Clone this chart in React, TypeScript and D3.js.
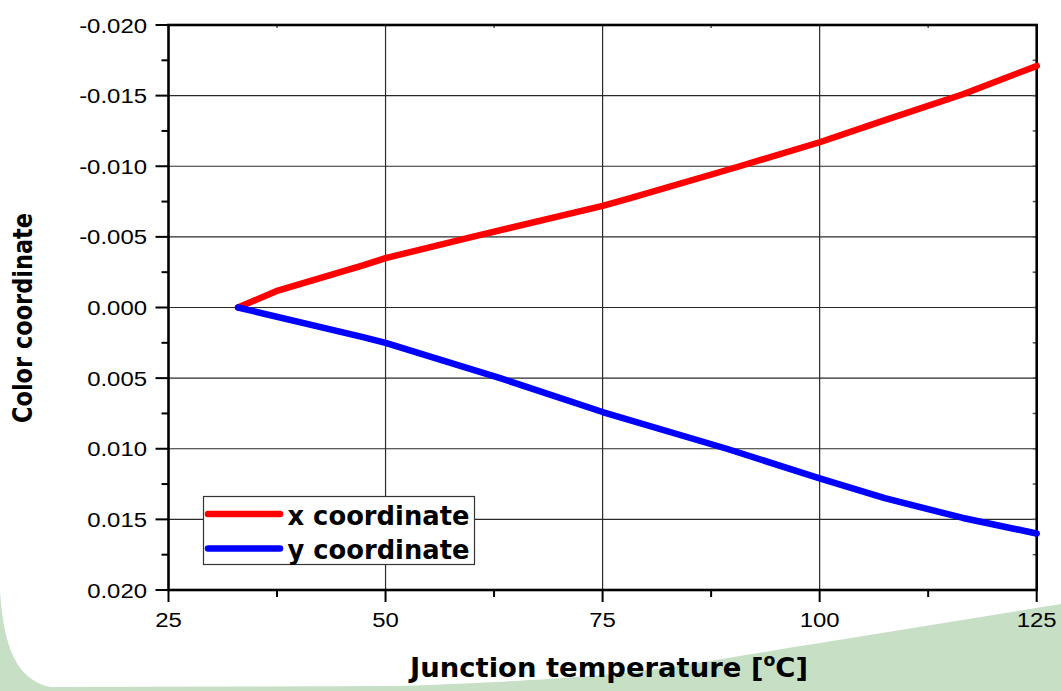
import React from "react";
import * as d3 from "d3";

// junction temperature (°C) and colour-coordinate shifts
const xTemps = [33, 37.6, 47.5, 50, 60, 75, 78, 90.8, 100, 107.7, 116.5, 125];
const xShift = [0, -0.0012, -0.003, -0.0035, -0.005, -0.0072, -0.0077, -0.01, -0.0117, -0.0133, -0.0151, -0.0171];

const yTemps = [33, 47.4, 50, 63.2, 75, 89.3, 100, 107.5, 116.5, 125];
const yShift = [0, 0.0021, 0.0025, 0.005, 0.0074, 0.01, 0.0121, 0.0135, 0.0149, 0.016];

const xTicks = [25, 50, 75, 100, 125];
const xMinor = [37.5, 62.5, 87.5, 112.5];
const yTicks = [-0.02, -0.015, -0.01, -0.005, 0, 0.005, 0.01, 0.015, 0.02];
const yMinor = [-0.0175, -0.0125, -0.0075, -0.0025, 0.0025, 0.0075, 0.0125, 0.0175];
const yTickLabels = ["-0.020", "-0.015", "-0.010", "-0.005", "0.000", "0.005", "0.010", "0.015", "0.020"];

const series = [
  { name: "x coordinate", color: "#ff0000", t: xTemps, v: xShift },
  { name: "y coordinate", color: "#0000ff", t: yTemps, v: yShift },
];

const W = 1061;
const H = 691;
const m = { left: 168.5, right: 1036.7, top: 25, bottom: 590 };

export default function App() {
  const x = d3.scaleLinear().domain([25, 125]).range([m.left, m.right]);
  const y = d3.scaleLinear().domain([-0.02, 0.02]).range([m.top, m.bottom]);

  const line = d3
    .line<[number, number]>()
    .x((d) => x(d[0]))
    .y((d) => y(d[1]));

  const tickFont = "'Liberation Sans', Arial, sans-serif";
  const boldFont = "'DejaVu Sans', Verdana, sans-serif";

  return (
    <svg
      width={W}
      height={H}
      style={{ position: "absolute", left: 0, top: 0, display: "block", background: "#fff" }}
    >
      {/* slide background swoosh */}
      <path
        d="M0,592 C4,650 18,680 50,687 L400,686 C520,682 600,676 650,670 C700,664 760,652 820,643 L1061,604 L1061,691 L0,691 Z"
        fill="#c6dfc5"
      />

      {/* grid */}
      <g stroke="#2a2a2a" strokeWidth={1.2}>
        {yTicks.slice(1, -1).map((t) => (
          <line key={"gy" + t} x1={m.left} x2={m.right} y1={y(t)} y2={y(t)} />
        ))}
        {xTicks.slice(1, -1).map((t) => (
          <line key={"gx" + t} x1={x(t)} x2={x(t)} y1={m.top} y2={m.bottom} />
        ))}
      </g>

      {/* ticks */}
      <g stroke="#000" strokeWidth={2}>
        {yTicks.map((t) => (
          <line key={"ly" + t} x1={m.left - 13} x2={m.left} y1={y(t)} y2={y(t)} />
        ))}
        {yMinor.map((t) => (
          <line key={"lm" + t} x1={m.left - 7} x2={m.left} y1={y(t)} y2={y(t)} />
        ))}
        {xTicks.map((t) => (
          <line key={"bx" + t} x1={x(t)} x2={x(t)} y1={m.bottom} y2={m.bottom + 12} />
        ))}
        {xMinor.map((t) => (
          <line key={"bm" + t} x1={x(t)} x2={x(t)} y1={m.bottom} y2={m.bottom + 7} />
        ))}
      </g>
      <g stroke="#555" strokeWidth={1.5}>
        {yTicks.concat(yMinor).map((t) => (
          <line key={"ry" + t} x1={m.right - 4} x2={m.right} y1={y(t)} y2={y(t)} />
        ))}
        {xMinor.map((t) => (
          <line key={"tm" + t} x1={x(t)} x2={x(t)} y1={m.top} y2={m.top + 3} />
        ))}
      </g>

      {/* frame */}
      <rect
        x={m.left}
        y={m.top}
        width={m.right - m.left}
        height={m.bottom - m.top}
        fill="none"
        stroke="#000"
        strokeWidth={2.6}
      />

      {/* tick labels */}
      <g fontFamily={tickFont} fontSize={21} fill="#000">
        {yTicks.map((t, i) => (
          <text
            key={"ty" + t}
            transform={`translate(147,${y(t) + 7.5}) scale(1.14,1)`}
            textAnchor="end"
          >
            {yTickLabels[i]}
          </text>
        ))}
        {xTicks.map((t) => (
          <text
            key={"tx" + t}
            transform={`translate(${x(t)},627) scale(1.14,1)`}
            textAnchor="middle"
          >
            {t}
          </text>
        ))}
      </g>

      {/* data */}
      {series.map((s) => (
        <path
          key={s.name}
          d={line(s.t.map((t, i) => [t, s.v[i]] as [number, number])) || ""}
          fill="none"
          stroke={s.color}
          strokeWidth={6.5}
          strokeLinejoin="round"
          strokeLinecap="round"
        />
      ))}

      {/* legend */}
      <rect x={203.5} y={496.5} width={271} height={68} fill="#fff" stroke="#333" strokeWidth={1.2} />
      {series.map((s, i) => (
        <g key={"lg" + s.name}>
          <line
            x1={208}
            x2={280}
            y1={514 + i * 34.5}
            y2={514 + i * 34.5}
            stroke={s.color}
            strokeWidth={6.5}
            strokeLinecap="round"
          />
          <text
            x={287.5}
            y={525 + i * 33.5}
            fontFamily={boldFont}
            fontWeight="bold"
            fontSize={26}
            textLength={182}
            lengthAdjust="spacingAndGlyphs"
            fill="#000"
          >
            {s.name}
          </text>
        </g>
      ))}

      {/* axis titles */}
      <text
        x={410}
        y={677}
        fontFamily={boldFont}
        fontWeight="bold"
        fontSize={27}
        textLength={398}
        lengthAdjust="spacingAndGlyphs"
        fill="#000"
      >
        Junction temperature [<tspan fontSize={17} dy={-11}>o</tspan>
        <tspan dy={11}>C]</tspan>
      </text>
      <text
        transform="translate(32,318) rotate(-90)"
        textAnchor="middle"
        fontFamily={boldFont}
        fontWeight="bold"
        fontSize={27}
        textLength={210}
        lengthAdjust="spacingAndGlyphs"
        fill="#000"
      >
        Color coordinate
      </text>
    </svg>
  );
}
